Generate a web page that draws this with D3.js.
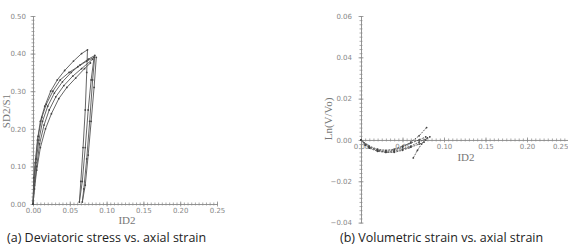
<!DOCTYPE html>
<html>
<head>
<meta charset="utf-8">
<script src="https://cdn.jsdelivr.net/npm/d3@7"></script>
<style>
  body { margin: 0; background: #fff; }
  .tick text { font-family: "DejaVu Sans", sans-serif; font-size: 7px; fill: #888; }
  .alabel { font-family: "Liberation Serif", serif; font-size: 11px; fill: #777; }
  .caption { font-family: "Open Sans", sans-serif; font-size: 12.5px; fill: #222; }
</style>
</head>
<body>
<div id="chart"></div>
<script>
// ---- data ----
// (a) deviatoric stress SD2/S1 vs axial strain ID2, one array of [x, y] per specimen
var stressA = [[0,0],[0.001,0.05],[0.003,0.11],[0.006,0.17],[0.010,0.22],[0.016,0.26],[0.024,0.30],[0.033,0.33],[0.043,0.355],[0.055,0.38],[0.066,0.40],[0.074,0.41],
               [0.073,0.35],[0.071,0.25],[0.068,0.15],[0.065,0.06],[0.063,0.005],
               [0.067,0.06],[0.071,0.15],[0.075,0.25],[0.079,0.33],[0.083,0.39]];
var stressB = [[0,0],[0.002,0.06],[0.004,0.11],[0.008,0.17],[0.013,0.22],[0.020,0.26],[0.029,0.295],[0.040,0.325],[0.052,0.35],[0.064,0.37],[0.075,0.385],[0.084,0.395],
               [0.081,0.33],[0.077,0.22],[0.073,0.12],[0.069,0.04],[0.067,0.005],
               [0.071,0.05],[0.075,0.13],[0.079,0.22],[0.083,0.31],[0.086,0.39]];
var stressC = [[0,0],[0.002,0.05],[0.005,0.10],[0.009,0.16],[0.015,0.21],[0.022,0.25],[0.031,0.285],[0.042,0.315],[0.054,0.34],[0.066,0.36],[0.081,0.385]];
var stressD = [[0,0],[0.002,0.04],[0.005,0.09],[0.010,0.15],[0.017,0.20],[0.025,0.24],[0.035,0.28],[0.046,0.31],[0.058,0.335],[0.070,0.36],[0.078,0.375]];
var stressE = [[0,0],[0.001,0.07],[0.004,0.12],[0.007,0.18],[0.012,0.23],[0.018,0.265],[0.027,0.30],[0.037,0.33],[0.049,0.35],[0.061,0.365],[0.073,0.38],[0.083,0.39]];

// (b) volumetric strain Ln(V/Vo) vs axial strain ID2
var volA = [[0,0],[0.005,-0.002],[0.010,-0.0035],[0.020,-0.005],[0.030,-0.0055],[0.040,-0.005],[0.050,-0.0035],[0.060,-0.001],[0.070,0.002],[0.079,0.006]];
var volB = [[0,0],[0.005,-0.0025],[0.010,-0.004],[0.020,-0.0055],[0.030,-0.006],[0.040,-0.0055],[0.050,-0.0045],[0.060,-0.003],[0.070,-0.001],[0.080,0.001],[0.083,0.0015]];
var volC = [[0,0],[0.010,-0.003],[0.020,-0.0045],[0.030,-0.005],[0.040,-0.0045],[0.050,-0.003],[0.060,-0.0015],[0.070,0.0],[0.078,0.0015]];
var volD = [[0,0],[0.010,-0.0035],[0.020,-0.005],[0.030,-0.006],[0.040,-0.006],[0.050,-0.005],[0.060,-0.0035],[0.070,-0.002],[0.076,-0.001]];
var volE = [[0.063,-0.0087],[0.068,-0.005],[0.073,-0.002],[0.078,0.0]];

var xTicks = [0, 0.05, 0.10, 0.15, 0.20, 0.25];
var yTicksA = [0, 0.10, 0.20, 0.30, 0.40, 0.50];
var yTicksB = [-0.04, -0.02, 0, 0.02, 0.04, 0.06];
var captionA = "(a) Deviatoric stress vs. axial strain";
var captionB = "(b) Volumetric strain vs. axial strain";

var W = 568, H = 252;
var svg = d3.select("#chart").append("svg")
    .attr("width", W).attr("height", H)
    .style("display", "block");

function panel(cfg) {
  var x = d3.scaleLinear().domain([0, 0.25]).range(cfg.xr);
  var y = d3.scaleLinear().domain(cfg.yd).range(cfg.yr);
  var g = svg.append("g");

  // minor ticks, drawn across the axis line
  var minorX = d3.axisBottom(x).tickValues(d3.range(0, 0.2501, 0.005)).tickSize(1.5).tickFormat("");
  var minorY = d3.axisLeft(y).tickValues(d3.range(cfg.yd[0], cfg.yd[1] + 1e-9, cfg.minorStep)).tickSize(1.5).tickFormat("");
  g.append("g").attr("transform", "translate(0," + y(0) + ")").call(minorX)
    .call(function(s) { s.select(".domain").remove(); s.selectAll("line").attr("y1", -1.5); });
  g.append("g").attr("transform", "translate(" + x(0) + ",0)").call(minorY)
    .call(function(s) { s.select(".domain").remove(); s.selectAll("line").attr("x1", 1.5); });

  var ax = g.append("g").attr("transform", "translate(0," + y(0) + ")")
    .call(d3.axisBottom(x).tickValues(xTicks).tickSize(2.5).tickSizeOuter(0).tickFormat(d3.format(".2f")));
  ax.selectAll("line").attr("y1", -2.5);
  ax.selectAll("text").attr("dy", "0.9em").attr("y", 3);
  if (cfg.lastEnd) {
    ax.selectAll("text").filter(function(d) { return d === 0.25; })
      .attr("text-anchor", "end").attr("x", -0.5);
  }
  var ay = g.append("g").attr("transform", "translate(" + x(0) + ",0)")
    .call(d3.axisLeft(y).tickValues(cfg.yTicks).tickSize(2.5).tickSizeOuter(0).tickFormat(d3.format(".2f")));
  ay.selectAll("line").attr("x1", 2.5);
  ay.selectAll("text").attr("x", -cfg.labGap).text(function(d) { return d3.format(".2f")(d).replace("-", "\u2212"); });
  g.selectAll(".domain").attr("stroke", "#888").attr("stroke-width", 0.9);
  g.selectAll(".tick line").attr("stroke", "#888").attr("stroke-width", 0.7);

  var line = d3.line().x(function(d) { return x(d[0]); }).y(function(d) { return y(d[1]); }).curve(d3.curveLinear);
  cfg.series.forEach(function(s) {
    g.append("path").datum(s).attr("d", line)
      .attr("fill", "none").attr("stroke", "#555").attr("stroke-width", 0.9)
      .attr("stroke-dasharray", cfg.dash || null);
    g.selectAll(null).data(s).enter().append("circle")
      .attr("cx", function(d) { return x(d[0]); })
      .attr("cy", function(d) { return y(d[1]); })
      .attr("r", 0.9).attr("fill", "#444");
  });

  g.append("text").attr("class", "alabel").attr("text-anchor", "middle")
    .attr("x", cfg.xlab[0]).attr("y", cfg.xlab[1]).text("ID2");
  g.append("text").attr("class", "alabel").attr("text-anchor", "middle")
    .attr("transform", "translate(" + cfg.ylab[0] + "," + cfg.ylab[1] + ") rotate(-90)")
    .text(cfg.ytitle);
}

panel({
  xr: [33, 217], yd: [0, 0.5], yr: [204, 16], yTicks: yTicksA, minorStep: 0.01, labGap: 7,
  series: [stressA, stressB, stressC, stressD, stressE],
  xlab: [127, 224], ylab: [10, 111], ytitle: "SD2/S1"
});
panel({
  xr: [361, 568.5], yd: [-0.04, 0.06], yr: [222.6, 16], yTicks: yTicksB, minorStep: 0.002, labGap: 9,
  series: [volA, volB, volC, volD, volE], dash: "2,1", lastEnd: true,
  xlab: [466, 161], ylab: [332, 119], ytitle: "Ln(V/Vo)"
});

svg.append("text").attr("class", "caption").attr("x", 7).attr("y", 242).text(captionA);
svg.append("text").attr("class", "caption").attr("x", 340).attr("y", 242).text(captionB);
</script>
</body>
</html>
